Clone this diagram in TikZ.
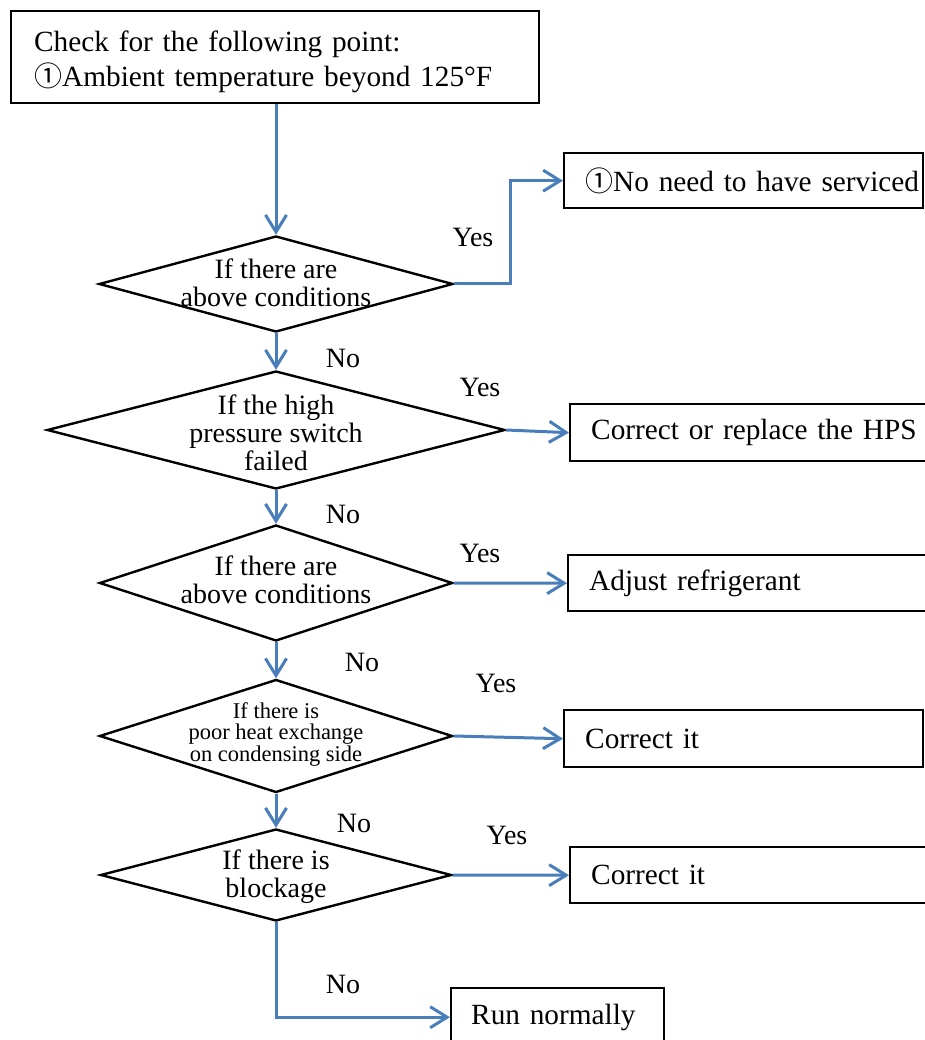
\documentclass[tikz,border=0pt]{standalone}
\usepackage{fontspec}
\setmainfont{Liberation Serif}
\newfontfamily\circfont{Noto Sans CJK SC}
\usepackage{tikz}
\usetikzlibrary{shapes.geometric,arrows.meta}
\definecolor{flowblue}{RGB}{74,126,187}
\newcommand{\cnum}{{\circfont\fontsize{28}{30}\selectfont ①}}
\tikzset{
	box/.style={draw, line width=2.4pt, anchor=north west, inner xsep=21pt, inner ysep=0pt,
		align=left, text width=#1, font=\fontsize{29.3}{35}\selectfont},
	decision/.style={diamond, draw, line width=2.4pt, inner sep=0pt},
	dtext/.style={align=center, font=\fontsize{28}{28}\selectfont},
	dsmall/.style={align=center, font=\fontsize{22.5}{21.5}\selectfont},
	flow/.style={draw=flowblue, line width=3pt, -{Straight Barb[length=17pt,width=21pt]}},
	answer/.style={anchor=base, font=\fontsize{28}{28}\selectfont}
}
\begin{document}
\begin{tikzpicture}[x=1pt,y=-1pt]
	\useasboundingbox (0,0) rectangle (925,1040);
	\node[box=482pt, minimum height=92pt, inner xsep=23pt] (top) at (10,10)
		{\rule{0pt}{29pt}Check for the following point:\\\cnum Ambient temperature beyond 125°F};
	\node[decision, minimum width=354pt, minimum height=96pt,
		label={[dtext, yshift=1pt]center:If there are\\above conditions}] (d1) at (276,284) {};
	\node[decision, minimum width=458pt, minimum height=118pt,
		label={[dtext, yshift=-3pt]center:If the high\\pressure switch\\failed}] (d2) at (276,430) {};
	\node[decision, minimum width=353pt, minimum height=116pt,
		label={[dtext, yshift=3pt]center:If there are\\above conditions}] (d3) at (276,583) {};
	\node[decision, minimum width=353pt, minimum height=113pt,
		label={[dsmall, yshift=2pt]center:If there is\\poor heat exchange\\on condensing side}] (d4) at (276,736) {};
	\node[decision, minimum width=351pt, minimum height=92pt,
		label={[dtext, yshift=-2pt]center:If there is\\blockage}] (d5) at (276,875) {};
	\node[box=317pt, minimum height=55pt] (b1) at (563,152) {\mbox{\cnum No need to have serviced}};
	\node[box=345pt, minimum height=57pt] (b2) at (569,403) {Correct or replace the HPS};
	\node[box=345pt, minimum height=56pt] (b3) at (567,554) {Adjust refrigerant};
	\node[box=317pt, minimum height=57pt] (b4) at (563,709) {Correct it};
	\node[box=345pt, minimum height=56pt] (b5) at (569,846) {Correct it};
	\node[box=173pt, minimum height=58pt, inner xsep=20pt] (b6) at (450,987) {Run normally};
	\draw[flow] (d1.north |- top.south) -- (d1.north);
	\draw[flow] (d1.east) -- ++(56,0) |- (b1.west);
	\draw[flow] (d1.south) -- (d2.north);
	\draw[flow] (d2.east) -- (b2.west);
	\draw[flow] (d2.south) -- (d3.north);
	\draw[flow] (d3.east) -- (b3.west);
	\draw[flow] (d3.south) -- (d4.north);
	\draw[flow] (d4.east) -- (b4.west);
	\draw[flow] (d4.south) -- (d5.north);
	\draw[flow] (d5.east) -- (b5.west);
	\draw[flow] (d5.south) |- (b6.west);
	\node[answer] (y1) at (473,247) {Yes};
	\node[answer] (n1) at (343,367) {No};
	\node[answer] (y2) at (480,396) {Yes};
	\node[answer] (n2) at (343,523) {No};
	\node[answer] (y3) at (480,562) {Yes};
	\node[answer] (n3) at (362,671) {No};
	\node[answer] (y4) at (496,692) {Yes};
	\node[answer] (n4) at (354,832) {No};
	\node[answer] (y5) at (507,844) {Yes};
	\node[answer] (n5) at (343,993) {No};
\end{tikzpicture}
\end{document}
